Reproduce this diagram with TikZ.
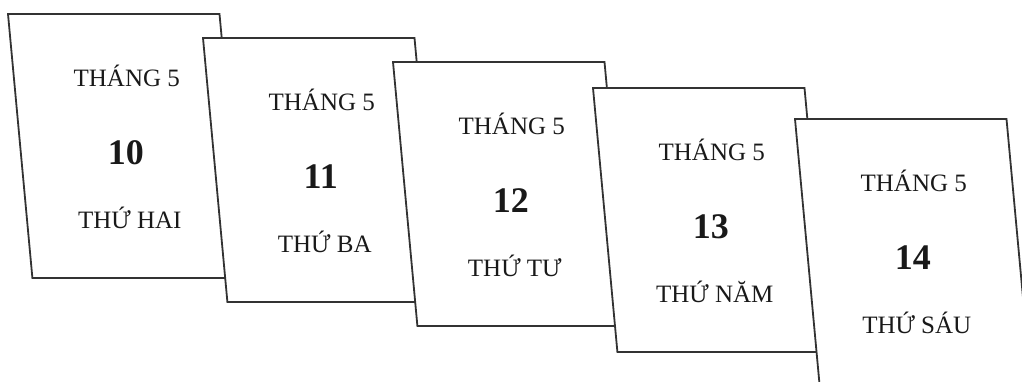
\documentclass[tikz,border=0pt]{standalone}
\usepackage{fontspec}
\setmainfont{Liberation Serif}
\tikzset{
  cardbox/.style={draw=black!80, line width=1.8pt, fill=white, line join=miter},
  toptext/.style={anchor=base, inner sep=0pt, font=\fontsize{25}{28}\selectfont, text=black!90},
  numtext/.style={anchor=base, inner sep=0pt, font=\fontsize{36}{40}\selectfont\bfseries, text=black!90},
  daytext/.style={anchor=base, inner sep=0pt, font=\fontsize{25}{28}\selectfont, text=black!90}
}
\newcommand\drawcalcard[5]{%
  % #1 x0, #2 y0 (top-left corner), #3 number, #4 weekday, #5 name
  \draw[cardbox] (#1,#2) -- ++(211.5,0) -- ++(24.4,264) -- ++(-211.5,0) -- cycle;
  \node[toptext] (#5m) at (#1+105.75+13,#2+72) {THÁNG 5};
  \node[numtext] (#5n) at (#1+105.75+12,#2+150) {#3};
  \node[daytext] (#5d) at (#1+105.75+16,#2+214) {#4};
}
\begin{document}
\begin{tikzpicture}[x=1pt,y=-1pt]
\useasboundingbox (0,0) rectangle (1022,381);
\clip (0,0) rectangle (1022,381);
\drawcalcard{8}{14}{10}{THỨ HAI}{c1}
\drawcalcard{203}{38}{11}{THỨ BA}{c2}
\drawcalcard{393}{62}{12}{THỨ TƯ}{c3}
\drawcalcard{593}{88}{13}{THỨ NĂM}{c4}
\drawcalcard{795}{119}{14}{THỨ SÁU}{c5}
\end{tikzpicture}
\end{document}
